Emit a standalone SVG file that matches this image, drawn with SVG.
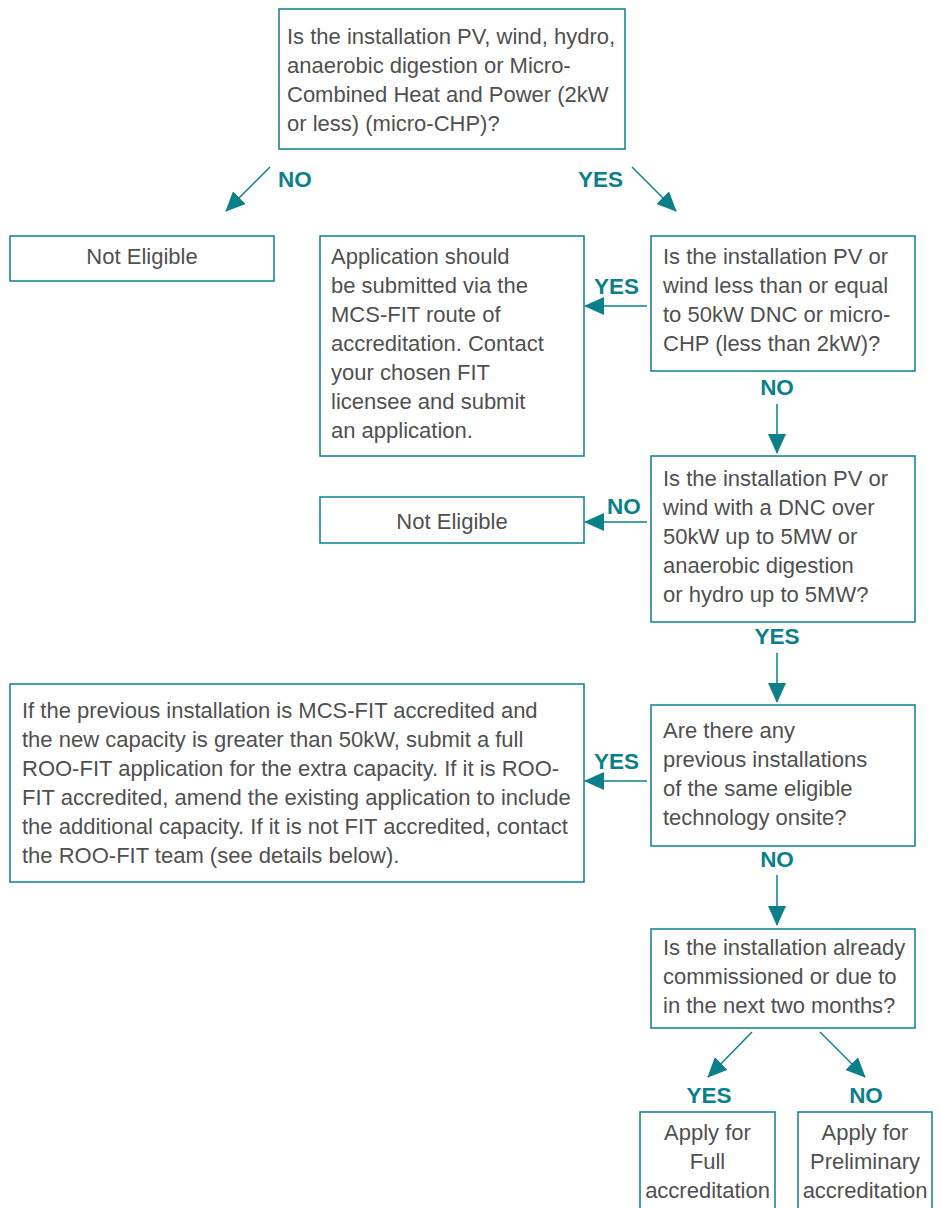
<svg xmlns="http://www.w3.org/2000/svg" width="941" height="1208" viewBox="0 0 941 1208">
<defs>
<marker id="ah" markerUnits="userSpaceOnUse" markerWidth="20" markerHeight="18" viewBox="0 0 20 18" refX="19" refY="9" orient="auto">
<path d="M0,0 L20,9 L0,18 Z" fill="#0b7f8a"/>
</marker>
<style>
.box{fill:#fff;stroke:#0b7f8a;stroke-width:1.5}
.t{font-family:"Liberation Sans",Arial,sans-serif;font-size:22px;fill:#505050}
.c{text-anchor:middle}
.lbl{font-family:"Liberation Sans",Arial,sans-serif;font-size:22.5px;font-weight:bold;fill:#0b7f8a}
.conn{stroke:#0b7f8a;stroke-width:1.5;fill:none;marker-end:url(#ah)}
</style>
</defs>
<rect width="941" height="1208" fill="#fff"/>

<g id="q1">
<rect class="box" x="279" y="9" width="346" height="140"/>
<text class="t" x="287" y="44">Is the installation PV, wind, hydro,</text>
<text class="t" x="287" y="73">anaerobic digestion or Micro-</text>
<text class="t" x="287" y="102">Combined Heat and Power (2kW</text>
<text class="t" x="287" y="131">or less) (micro-CHP)?</text>
</g>

<g id="ne1">
<rect class="box" x="10" y="236" width="264" height="45"/>
<text class="t c" x="142" y="264">Not Eligible</text>
</g>

<g id="mcs">
<rect class="box" x="320" y="236" width="264" height="220"/>
<text class="t" x="331" y="264">Application should</text>
<text class="t" x="331" y="293">be submitted via the</text>
<text class="t" x="331" y="322">MCS-FIT route of</text>
<text class="t" x="331" y="351">accreditation. Contact</text>
<text class="t" x="331" y="380">your chosen FIT</text>
<text class="t" x="331" y="409">licensee and submit</text>
<text class="t" x="331" y="438">an application.</text>
</g>

<g id="q2">
<rect class="box" x="651" y="236" width="264" height="135"/>
<text class="t" x="663" y="264">Is the installation PV or</text>
<text class="t" x="663" y="293">wind less than or equal</text>
<text class="t" x="663" y="322">to 50kW DNC or micro-</text>
<text class="t" x="663" y="351">CHP (less than 2kW)?</text>
</g>

<g id="ne2">
<rect class="box" x="320" y="497" width="264" height="46"/>
<text class="t c" x="452" y="529">Not Eligible</text>
</g>

<g id="q3">
<rect class="box" x="651" y="456" width="264" height="166"/>
<text class="t" x="663" y="486">Is the installation PV or</text>
<text class="t" x="663" y="515">wind with a DNC over</text>
<text class="t" x="663" y="544">50kW up to 5MW or</text>
<text class="t" x="663" y="573">anaerobic digestion</text>
<text class="t" x="663" y="602">or hydro up to 5MW?</text>
</g>

<g id="prev">
<rect class="box" x="10" y="684" width="574" height="198"/>
<text class="t" x="22" y="718">If the previous installation is MCS-FIT accredited and</text>
<text class="t" x="22" y="747">the new capacity is greater than 50kW, submit a full</text>
<text class="t" x="22" y="776">ROO-FIT application for the extra capacity. If it is ROO-</text>
<text class="t" x="22" y="805">FIT accredited, amend the existing application to include</text>
<text class="t" x="22" y="834">the additional capacity. If it is not FIT accredited, contact</text>
<text class="t" x="22" y="863">the ROO-FIT team (see details below).</text>
</g>

<g id="q4">
<rect class="box" x="651" y="705" width="264" height="141"/>
<text class="t" x="663" y="738">Are there any</text>
<text class="t" x="663" y="767">previous installations</text>
<text class="t" x="663" y="796">of the same eligible</text>
<text class="t" x="663" y="825">technology onsite?</text>
</g>

<g id="q5">
<rect class="box" x="651" y="929" width="264" height="99"/>
<text class="t" x="663" y="955">Is the installation already</text>
<text class="t" x="663" y="984">commissioned or due to</text>
<text class="t" x="663" y="1013">in the next two months?</text>
</g>

<g id="full">
<rect class="box" x="640" y="1112" width="135" height="110"/>
<text class="t c" x="707.5" y="1140">Apply for</text>
<text class="t c" x="707.5" y="1169">Full</text>
<text class="t c" x="707.5" y="1198">accreditation</text>
</g>

<g id="prelim">
<rect class="box" x="798" y="1112" width="134" height="110"/>
<text class="t c" x="865" y="1140">Apply for</text>
<text class="t c" x="865" y="1169">Preliminary</text>
<text class="t c" x="865" y="1198">accreditation</text>
</g>

<g id="connectors">
<line class="conn" x1="270" y1="167" x2="226" y2="211"/>
<line class="conn" x1="632" y1="167" x2="676" y2="211"/>
<line class="conn" x1="647" y1="306" x2="585" y2="306"/>
<line class="conn" x1="777" y1="404" x2="777" y2="453"/>
<line class="conn" x1="647" y1="522" x2="585" y2="522"/>
<line class="conn" x1="777" y1="653" x2="777" y2="702"/>
<line class="conn" x1="647" y1="781" x2="585" y2="781"/>
<line class="conn" x1="777" y1="875" x2="777" y2="925"/>
<line class="conn" x1="752" y1="1032" x2="708" y2="1077"/>
<line class="conn" x1="820" y1="1032" x2="865" y2="1077"/>
<text class="lbl" x="278" y="187">NO</text>
<text class="lbl" x="578" y="187">YES</text>
<text class="lbl" x="594" y="294">YES</text>
<text class="lbl c" x="777" y="395">NO</text>
<text class="lbl" x="607" y="514">NO</text>
<text class="lbl c" x="777" y="644">YES</text>
<text class="lbl" x="594" y="769">YES</text>
<text class="lbl c" x="777" y="867">NO</text>
<text class="lbl c" x="709" y="1103">YES</text>
<text class="lbl c" x="866" y="1103">NO</text>
</g>
</svg>
